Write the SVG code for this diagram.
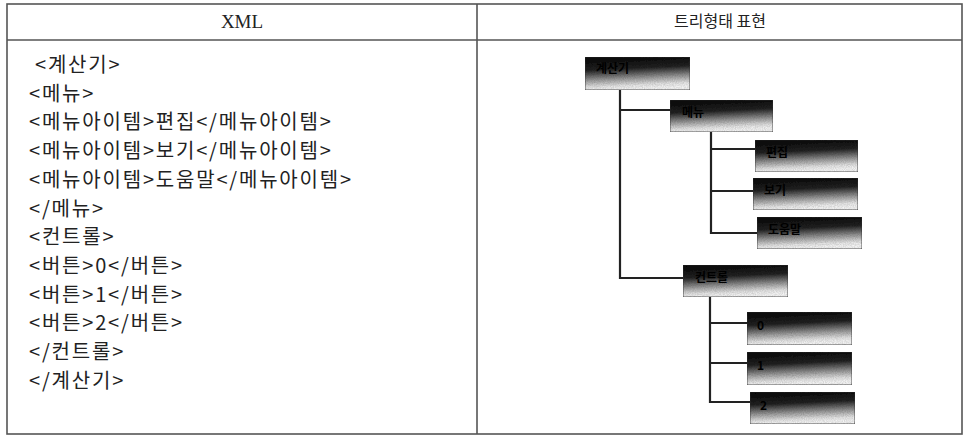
<svg xmlns="http://www.w3.org/2000/svg" width="968" height="437" viewBox="0 0 968 437">
<defs>
<linearGradient id="boxg" x1="0" y1="0" x2="0.15" y2="1">
<stop offset="0" stop-color="#050505"/>
<stop offset="0.4" stop-color="#222"/>
<stop offset="0.7" stop-color="#9a9a9a"/>
<stop offset="0.9" stop-color="#e4e4e4"/>
<stop offset="1" stop-color="#f4f4f4"/>
</linearGradient>
<filter id="grain" x="0" y="0" width="1" height="1">
<feTurbulence type="fractalNoise" baseFrequency="0.9" numOctaves="2" seed="3" result="n"/>
<feColorMatrix in="n" type="matrix" values="0 0 0 0 0.5  0 0 0 0 0.5  0 0 0 0 0.5  0 0 0 0.9 -0.2" result="na"/>
<feComposite in="na" in2="SourceGraphic" operator="in" result="nc"/>
<feBlend in="SourceGraphic" in2="nc" mode="multiply"/>
</filter>
</defs>
<style>
.frame{fill:none;stroke:#555;stroke-width:1.6}
.grid{stroke:#555;stroke-width:1.6}
.hdr{font-family:"Liberation Serif","Noto Sans CJK KR",serif;font-size:19px;fill:#222;text-anchor:middle}
.hdrk{font-family:"Noto Sans CJK KR",sans-serif;font-size:16px;fill:#222;text-anchor:middle}
.code{font-family:"Noto Sans CJK KR",sans-serif;font-size:20px;fill:#222;letter-spacing:1.8px}
.box{fill:url(#boxg);stroke:#333;stroke-width:0.8}
.edge{stroke:#222;stroke-width:2.2;fill:none}
.lbl{font-family:"Noto Sans CJK KR",sans-serif;font-size:12px;font-weight:bold;fill:#000}
</style>
<rect width="968" height="437" fill="#fff"/>
<g id="table">
<rect class="frame" x="7" y="4" width="955" height="430"/>
<line class="grid" x1="7" y1="40" x2="962" y2="40"/>
<line class="grid" x1="477" y1="4" x2="477" y2="434"/>
<text class="hdr" x="242" y="28">XML</text>
<text class="hdrk" x="720" y="27">트리형태 표현</text>
</g>
<g id="xml-code">
<text class="code" x="35" y="72">&lt;계산기&gt;</text>
<text class="code" x="29" y="101">&lt;메뉴&gt;</text>
<text class="code" x="29" y="129">&lt;메뉴아이템&gt;편집&lt;/메뉴아이템&gt;</text>
<text class="code" x="29" y="158">&lt;메뉴아이템&gt;보기&lt;/메뉴아이템&gt;</text>
<text class="code" x="29" y="187">&lt;메뉴아이템&gt;도움말&lt;/메뉴아이템&gt;</text>
<text class="code" x="29" y="216">&lt;/메뉴&gt;</text>
<text class="code" x="29" y="244">&lt;컨트롤&gt;</text>
<text class="code" x="29" y="273">&lt;버튼&gt;0&lt;/버튼&gt;</text>
<text class="code" x="29" y="302">&lt;버튼&gt;1&lt;/버튼&gt;</text>
<text class="code" x="29" y="330">&lt;버튼&gt;2&lt;/버튼&gt;</text>
<text class="code" x="29" y="359">&lt;/컨트롤&gt;</text>
<text class="code" x="29" y="388">&lt;/계산기&gt;</text>
</g>
<g id="connectors">
<path class="edge" d="M620 90 V278 H683 M620 110 H670"/>
<path class="edge" d="M711 132 V233 H757 M711 149 H755 M711 191 H753"/>
<path class="edge" d="M710 297 V402 H750 M710 323 H747 M710 363 H747"/>
</g>
<g id="n-root"><rect class="box" filter="url(#grain)" x="585" y="57" width="105" height="33"/><text class="lbl" x="596" y="73">계산기</text></g>
<g id="n-menu"><rect class="box" filter="url(#grain)" x="670" y="100" width="103" height="32"/><text class="lbl" x="682" y="117">메뉴</text></g>
<g id="n-edit"><rect class="box" filter="url(#grain)" x="755" y="140" width="103" height="32"/><text class="lbl" x="766" y="157">편집</text></g>
<g id="n-view"><rect class="box" filter="url(#grain)" x="753" y="178" width="105" height="32"/><text class="lbl" x="764" y="195">보기</text></g>
<g id="n-help"><rect class="box" filter="url(#grain)" x="757" y="217" width="105" height="32"/><text class="lbl" x="768" y="234">도움말</text></g>
<g id="n-control"><rect class="box" filter="url(#grain)" x="683" y="265" width="105" height="32"/><text class="lbl" x="695" y="282">컨트롤</text></g>
<g id="n-btn0"><rect class="box" filter="url(#grain)" x="747" y="312" width="105" height="33"/><text class="lbl" x="757" y="330">0</text></g>
<g id="n-btn1"><rect class="box" filter="url(#grain)" x="747" y="352" width="105" height="33"/><text class="lbl" x="757" y="370">1</text></g>
<g id="n-btn2"><rect class="box" filter="url(#grain)" x="750" y="392" width="105" height="32"/><text class="lbl" x="760" y="410">2</text></g>
</svg>
